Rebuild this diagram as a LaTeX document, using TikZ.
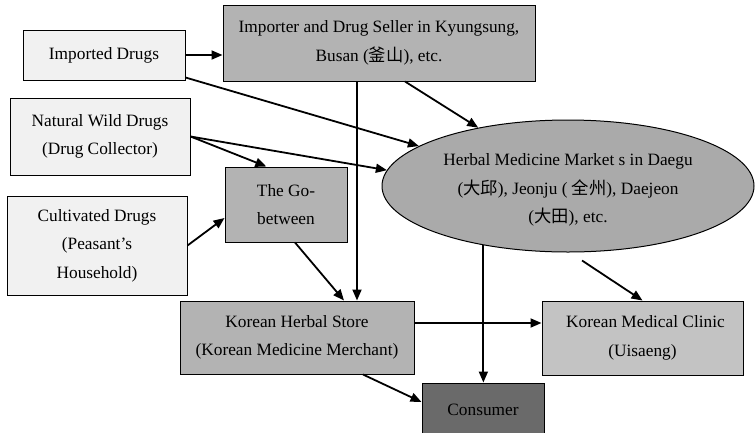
\documentclass[tikz,border=0pt]{standalone}
\usepackage{fontspec}
\setmainfont{Liberation Serif}
\newfontfamily\cjk{Noto Sans CJK SC}
\usetikzlibrary{arrows.meta, calc, shapes.geometric}

\definecolor{srcfill}{HTML}{F1F1F1}
\definecolor{midfill}{HTML}{B3B3B3}
\definecolor{ellfill}{HTML}{AAAAAA}
\definecolor{clinicfill}{HTML}{C3C3C3}
\definecolor{consfill}{HTML}{6A6A6A}

\begin{document}
\begin{tikzpicture}[x=1pt,y=-1pt,
    every node/.style={rectangle,draw,line width=1pt,align=center,inner sep=2pt,
        font=\fontsize{17.3}{28.5}\selectfont},
    arr/.style={-{Triangle[length=11pt,width=9pt]},line width=1.8pt}]
    \useasboundingbox (0,0) rectangle (756,432);

    % 药材来源
    \node[fill=srcfill,minimum width=162pt,minimum height=50pt] (imp) at (104,55) {Imported Drugs};
    \node[fill=srcfill,minimum width=180pt,minimum height=77pt] (wild) at (100,136.5) {Natural Wild Drugs\\(Drug Collector)};
    \node[fill=srcfill,minimum width=180pt,minimum height=99pt] (cult) at (97,245.5) {Cultivated Drugs\\(Peasant’s\\Household)};

    % 中间商
    \node[fill=midfill,minimum width=312pt,minimum height=76pt] (seller) at (379,43) {Importer and Drug Seller in Kyungsung,\\Busan ({\cjk 釜山}), etc.};
    \node[fill=midfill,minimum width=122pt,minimum height=75pt] (go) at (286,204.5) {The Go-\\between};
    \node[ellipse,fill=ellfill,minimum width=372pt,minimum height=132pt,inner sep=0pt] (mkt) at (568,186) {};
    \node[draw=none] (mkttext) at ([yshift=-4pt]mkt.center) {Herbal Medicine Market s in Daegu\\({\cjk 大邱}), Jeonju ( {\cjk 全州}), Daejeon\\({\cjk 大田}), etc.};

    % 零售与消费
    \node[fill=midfill,minimum width=234pt,minimum height=73pt] (store) at (297,337.5) {Korean Herbal Store\\(Korean Medicine Merchant)};
    \node[fill=clinicfill,minimum width=201pt,minimum height=74pt] (clinic) at (642.5,338) {\hspace*{6pt}Korean Medical Clinic\\(Uisaeng)};
    \node[fill=consfill,minimum width=122pt,minimum height=54pt] (cons) at (483,410) {Consumer};

    % 流向
    \draw[arr] (imp.east) -- (imp.east -| seller.west);
    \draw[arr] ([yshift=3pt]imp.south east) -- (mkt.165);
    \draw[arr] (wild.east) -- ($(go.north west)!0.34!(go.north east)$);
    \draw[arr] (wild.east) -- (mkt.175);
    \draw[arr] ([xshift=-22pt]seller.south) -- ([xshift=-22pt]seller.south |- store.north);
    \draw[arr] ([xshift=26pt]seller.south) -- (mkt.147);
    \draw[arr] (cult.east) -- ([yshift=-13.5pt]go.west);
    \draw[arr] ([xshift=9pt]go.south) -- ([xshift=47pt]store.north);
    \draw[arr] (mkt.215) -- (mkt.215 |- cons.north);
    \draw[arr] ([shift={(14pt,-8pt)}]mkt.south) -- (clinic.north);
    \draw[arr] ([yshift=14.5pt]store.east) -- ([yshift=14.5pt]store.east -| clinic.west);
    \draw[arr] ([xshift=66pt]store.south) -- ([yshift=8pt]cons.west);
\end{tikzpicture}
\end{document}
